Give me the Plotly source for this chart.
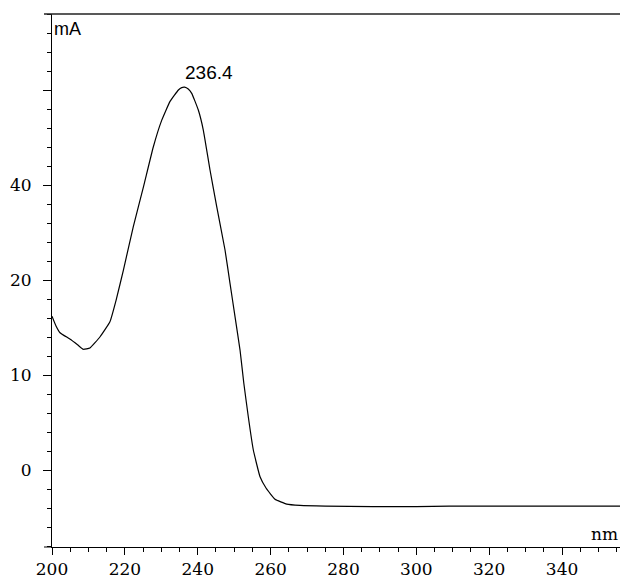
import plotly.graph_objects as go

# Spectrum data (wavelength nm, absorbance mA in axis units)
wavelength = [200.0, 201.1, 202.2, 204.9, 207.1, 208.6, 210.4, 213.2, 215.9,
              217.6, 219.6, 222.3, 225.1, 227.8, 230.1, 232.4, 234.7, 235.6, 236.4,
              237.4, 238.35, 240.16, 241.53, 243.37, 245.21, 247.49, 248.86, 250.23,
              251.61, 252.65, 253.88, 255.26, 257.10, 258.74, 261.21, 264.42, 268.07,
              275.0, 288.0, 300.0, 309.0, 320.0, 340.0, 356.0]
absorbance = [16.2, 15.16, 14.45, 13.79, 13.16, 12.71, 12.84, 14.03, 15.61,
              17.89, 21.05, 25.6, 29.8, 34.0, 36.8, 38.8, 40.0, 40.25, 40.3,
              40.1, 39.65, 37.89, 35.79, 31.58, 27.72, 23.16, 19.65, 16.14,
              12.63, 9.13, 5.61, 2.11, -0.71, -1.89, -3.08, -3.58, -3.72,
              -3.8, -3.85, -3.85, -3.8, -3.8, -3.8, -3.8]

peak_x = 236.4
peak_y = 40.3
peak_label = "236.4"

x_tickvals = [200, 220, 240, 260, 280, 300, 320, 340]
y_tickvals = [0, 10, 20, 30, 40]
y_ticktext = ["0", "10", "20", "40", ""]

serif = "DejaVu Serif"
sans = "Liberation Sans, Arial, Helvetica, sans-serif"

fig = go.Figure()
fig.add_trace(go.Scatter(
    x=wavelength, y=absorbance, mode="lines",
    line=dict(color="black", width=1.2, shape="spline", smoothing=0.35),
    hoverinfo="skip", showlegend=False,
))

fig.update_layout(
    width=620, height=581,
    margin=dict(l=52, r=0, t=14, b=34),
    paper_bgcolor="white", plot_bgcolor="white",
    showlegend=False,
    font=dict(family=serif, color="black"),
    xaxis=dict(
        range=[200, 355.9], showgrid=False, zeroline=False,
        showline=True, linecolor="black", linewidth=1,
        tickmode="array", tickvals=x_tickvals,
        ticks="outside", ticklen=7, tickwidth=1, tickcolor="black",
        minor=dict(dtick=5, ticks="outside", ticklen=4, tickwidth=1, tickcolor="black"),
        tickfont=dict(family=serif, size=17, color="black"),
    ),
    yaxis=dict(
        range=[-8.1, 48.0], showgrid=False, zeroline=False,
        showline=True, linecolor="black", linewidth=1,
        tickmode="array", tickvals=y_tickvals, ticktext=y_ticktext,
        ticks="outside", ticklen=8, tickwidth=1, tickcolor="black",
        minor=dict(dtick=2, ticks="outside", ticklen=4, tickwidth=1, tickcolor="black"),
        tickfont=dict(family=serif, size=17, color="black"),
        ticklabelstandoff=8,
    ),
    shapes=[
        dict(type="line", xref="paper", yref="paper", x0=-8/568, x1=1, y0=1, y1=1,
             line=dict(color="#222", width=1.6)),
        dict(type="line", xref="paper", yref="paper", x0=-8/568, x1=0, y0=0, y1=0,
             line=dict(color="black", width=1)),
    ],
    annotations=[
        dict(text="mA", xref="paper", yref="paper", x=0, y=1, xanchor="left", yanchor="top",
             xshift=0, yshift=-3, showarrow=False,
             font=dict(family=sans, size=18, color="black")),
        dict(text="nm", xref="paper", yref="paper", x=1, y=0, xanchor="right", yanchor="bottom",
             xshift=0, yshift=1, showarrow=False,
             font=dict(family=serif, size=17, color="black")),
        dict(text=peak_label, x=peak_x, y=peak_y, xref="x", yref="y",
             xanchor="left", yanchor="bottom", xshift=-2, yshift=2, showarrow=False,
             font=dict(family=sans, size=19, color="black")),
    ],
)

fig.write_html("out.html")
